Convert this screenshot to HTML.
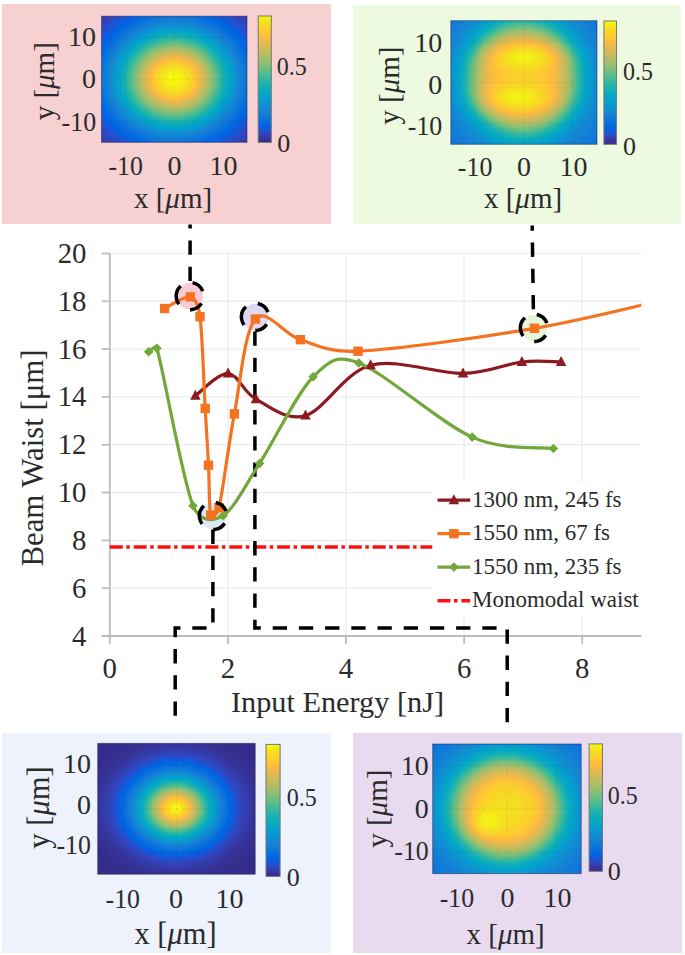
<!DOCTYPE html>
<html><head><meta charset="utf-8"><style>
html,body{margin:0;padding:0;background:#fff;width:685px;height:955px;overflow:hidden}
svg{display:block;font-family:"Liberation Serif", serif}
</style></head><body>
<svg width="685" height="955" viewBox="0 0 685 955">
<defs><filter id="parula" x="0" y="0" width="1" height="1" color-interpolation-filters="sRGB"><feComponentTransfer><feFuncR type="table" tableValues="0.208 0.212 0.212 0.208 0.196 0.171 0.125 0.059 0.012 0.006 0.017 0.033 0.050 0.063 0.072 0.078 0.079 0.075 0.064 0.049 0.034 0.026 0.024 0.023 0.023 0.027 0.038 0.059 0.084 0.113 0.145 0.180 0.218 0.259 0.302 0.348 0.395 0.442 0.487 0.530 0.571 0.610 0.647 0.683 0.718 0.752 0.786 0.819 0.851 0.882 0.914 0.945 0.974 0.994 0.999 0.996 0.988 0.979 0.970 0.963 0.959 0.960 0.966 0.976"/><feFuncG type="table" tableValues="0.166 0.190 0.214 0.239 0.265 0.292 0.324 0.360 0.388 0.409 0.427 0.443 0.459 0.474 0.489 0.504 0.520 0.537 0.557 0.577 0.597 0.614 0.629 0.642 0.653 0.664 0.674 0.684 0.693 0.702 0.710 0.718 0.725 0.732 0.738 0.742 0.746 0.748 0.749 0.749 0.749 0.747 0.746 0.744 0.741 0.738 0.736 0.733 0.730 0.727 0.726 0.726 0.731 0.746 0.765 0.786 0.807 0.827 0.848 0.871 0.895 0.922 0.951 0.983"/><feFuncB type="table" tableValues="0.529 0.578 0.627 0.677 0.728 0.779 0.830 0.868 0.882 0.883 0.879 0.872 0.864 0.855 0.847 0.838 0.831 0.826 0.824 0.823 0.820 0.814 0.804 0.791 0.777 0.761 0.744 0.725 0.706 0.686 0.665 0.642 0.619 0.595 0.571 0.547 0.524 0.503 0.484 0.466 0.449 0.434 0.419 0.404 0.391 0.377 0.363 0.350 0.336 0.322 0.306 0.289 0.267 0.240 0.216 0.197 0.179 0.163 0.147 0.131 0.113 0.095 0.075 0.054"/></feComponentTransfer></filter>
<linearGradient id="cbar" x1="0" y1="1" x2="0" y2="0"><stop offset="0" stop-color="#000"/><stop offset="1" stop-color="#fff"/></linearGradient>
<radialGradient id="rg1" gradientUnits="userSpaceOnUse" cx="0" cy="0" r="1" gradientTransform="translate(174.25 79.25) scale(126.10 109.29)"><stop offset="0.000" stop-color="#ffffff"/><stop offset="0.017" stop-color="#ffffff"/><stop offset="0.033" stop-color="#fefefe"/><stop offset="0.050" stop-color="#fcfcfc"/><stop offset="0.067" stop-color="#f9f9f9"/><stop offset="0.083" stop-color="#f6f6f6"/><stop offset="0.100" stop-color="#f2f2f2"/><stop offset="0.117" stop-color="#eeeeee"/><stop offset="0.133" stop-color="#e9e9e9"/><stop offset="0.150" stop-color="#e3e3e3"/><stop offset="0.167" stop-color="#dddddd"/><stop offset="0.183" stop-color="#d6d6d6"/><stop offset="0.200" stop-color="#cfcfcf"/><stop offset="0.217" stop-color="#c8c8c8"/><stop offset="0.233" stop-color="#c0c0c0"/><stop offset="0.250" stop-color="#b9b9b9"/><stop offset="0.267" stop-color="#b1b1b1"/><stop offset="0.283" stop-color="#a8a8a8"/><stop offset="0.300" stop-color="#a0a0a0"/><stop offset="0.317" stop-color="#989898"/><stop offset="0.333" stop-color="#909090"/><stop offset="0.350" stop-color="#888888"/><stop offset="0.367" stop-color="#808080"/><stop offset="0.383" stop-color="#787878"/><stop offset="0.400" stop-color="#707070"/><stop offset="0.417" stop-color="#696969"/><stop offset="0.433" stop-color="#626262"/><stop offset="0.450" stop-color="#5b5b5b"/><stop offset="0.467" stop-color="#545454"/><stop offset="0.483" stop-color="#4e4e4e"/><stop offset="0.500" stop-color="#484848"/><stop offset="0.517" stop-color="#424242"/><stop offset="0.533" stop-color="#3d3d3d"/><stop offset="0.550" stop-color="#373737"/><stop offset="0.567" stop-color="#333333"/><stop offset="0.583" stop-color="#2e2e2e"/><stop offset="0.600" stop-color="#2a2a2a"/><stop offset="0.617" stop-color="#262626"/><stop offset="0.633" stop-color="#232323"/><stop offset="0.650" stop-color="#202020"/><stop offset="0.667" stop-color="#1d1d1d"/><stop offset="0.683" stop-color="#1a1a1a"/><stop offset="0.700" stop-color="#181818"/><stop offset="0.717" stop-color="#161616"/><stop offset="0.733" stop-color="#141414"/><stop offset="0.750" stop-color="#121212"/><stop offset="0.767" stop-color="#101010"/><stop offset="0.783" stop-color="#0f0f0f"/><stop offset="0.800" stop-color="#0e0e0e"/><stop offset="0.817" stop-color="#0c0c0c"/><stop offset="0.833" stop-color="#0b0b0b"/><stop offset="0.850" stop-color="#0b0b0b"/><stop offset="0.867" stop-color="#0a0a0a"/><stop offset="0.883" stop-color="#090909"/><stop offset="0.900" stop-color="#090909"/><stop offset="0.917" stop-color="#080808"/><stop offset="0.933" stop-color="#080808"/><stop offset="0.950" stop-color="#070707"/><stop offset="0.967" stop-color="#070707"/><stop offset="0.983" stop-color="#070707"/><stop offset="1.000" stop-color="#060606"/></radialGradient>
<radialGradient id="rg2" gradientUnits="userSpaceOnUse" cx="0" cy="0" r="1" gradientTransform="translate(522.93 78.38) scale(126.71 128.54)"><stop offset="0.000" stop-color="#e0e0e0"/><stop offset="0.017" stop-color="#e0e0e0"/><stop offset="0.033" stop-color="#e0e0e0"/><stop offset="0.050" stop-color="#e0e0e0"/><stop offset="0.067" stop-color="#e0e0e0"/><stop offset="0.083" stop-color="#dfdfdf"/><stop offset="0.100" stop-color="#dedede"/><stop offset="0.117" stop-color="#dedede"/><stop offset="0.133" stop-color="#dddddd"/><stop offset="0.150" stop-color="#dcdcdc"/><stop offset="0.167" stop-color="#dadada"/><stop offset="0.183" stop-color="#d9d9d9"/><stop offset="0.200" stop-color="#d7d7d7"/><stop offset="0.217" stop-color="#d4d4d4"/><stop offset="0.233" stop-color="#d2d2d2"/><stop offset="0.250" stop-color="#cfcfcf"/><stop offset="0.267" stop-color="#cbcbcb"/><stop offset="0.283" stop-color="#c7c7c7"/><stop offset="0.300" stop-color="#c2c2c2"/><stop offset="0.317" stop-color="#bcbcbc"/><stop offset="0.333" stop-color="#b6b6b6"/><stop offset="0.350" stop-color="#afafaf"/><stop offset="0.367" stop-color="#a7a7a7"/><stop offset="0.383" stop-color="#9e9e9e"/><stop offset="0.400" stop-color="#959595"/><stop offset="0.417" stop-color="#8c8c8c"/><stop offset="0.433" stop-color="#828282"/><stop offset="0.450" stop-color="#797979"/><stop offset="0.467" stop-color="#707070"/><stop offset="0.483" stop-color="#686868"/><stop offset="0.500" stop-color="#606060"/><stop offset="0.517" stop-color="#5a5a5a"/><stop offset="0.533" stop-color="#545454"/><stop offset="0.550" stop-color="#4f4f4f"/><stop offset="0.567" stop-color="#4b4b4b"/><stop offset="0.583" stop-color="#474747"/><stop offset="0.600" stop-color="#444444"/><stop offset="0.617" stop-color="#424242"/><stop offset="0.633" stop-color="#404040"/><stop offset="0.650" stop-color="#3d3d3d"/><stop offset="0.667" stop-color="#3b3b3b"/><stop offset="0.683" stop-color="#393939"/><stop offset="0.700" stop-color="#383838"/><stop offset="0.717" stop-color="#363636"/><stop offset="0.733" stop-color="#343434"/><stop offset="0.750" stop-color="#323232"/><stop offset="0.767" stop-color="#303030"/><stop offset="0.783" stop-color="#2f2f2f"/><stop offset="0.800" stop-color="#2d2d2d"/><stop offset="0.817" stop-color="#2b2b2b"/><stop offset="0.833" stop-color="#2a2a2a"/><stop offset="0.850" stop-color="#282828"/><stop offset="0.867" stop-color="#272727"/><stop offset="0.883" stop-color="#262626"/><stop offset="0.900" stop-color="#242424"/><stop offset="0.917" stop-color="#232323"/><stop offset="0.933" stop-color="#222222"/><stop offset="0.950" stop-color="#212121"/><stop offset="0.967" stop-color="#1f1f1f"/><stop offset="0.983" stop-color="#1e1e1e"/><stop offset="1.000" stop-color="#1d1d1d"/></radialGradient>
<radialGradient id="rg3" gradientUnits="userSpaceOnUse" cx="0" cy="0" r="1" gradientTransform="translate(524.39 57.78) scale(87.72 38.32)"><stop offset="0.000" stop-color="#ffffff" stop-opacity="0.900"/><stop offset="0.025" stop-color="#ffffff" stop-opacity="0.895"/><stop offset="0.050" stop-color="#ffffff" stop-opacity="0.880"/><stop offset="0.075" stop-color="#ffffff" stop-opacity="0.856"/><stop offset="0.100" stop-color="#ffffff" stop-opacity="0.823"/><stop offset="0.125" stop-color="#ffffff" stop-opacity="0.782"/><stop offset="0.150" stop-color="#ffffff" stop-opacity="0.735"/><stop offset="0.175" stop-color="#ffffff" stop-opacity="0.683"/><stop offset="0.200" stop-color="#ffffff" stop-opacity="0.628"/><stop offset="0.225" stop-color="#ffffff" stop-opacity="0.571"/><stop offset="0.250" stop-color="#ffffff" stop-opacity="0.513"/><stop offset="0.275" stop-color="#ffffff" stop-opacity="0.456"/><stop offset="0.300" stop-color="#ffffff" stop-opacity="0.400"/><stop offset="0.325" stop-color="#ffffff" stop-opacity="0.348"/><stop offset="0.350" stop-color="#ffffff" stop-opacity="0.299"/><stop offset="0.375" stop-color="#ffffff" stop-opacity="0.254"/><stop offset="0.400" stop-color="#ffffff" stop-opacity="0.213"/><stop offset="0.425" stop-color="#ffffff" stop-opacity="0.177"/><stop offset="0.450" stop-color="#ffffff" stop-opacity="0.145"/><stop offset="0.475" stop-color="#ffffff" stop-opacity="0.118"/><stop offset="0.500" stop-color="#ffffff" stop-opacity="0.095"/><stop offset="0.525" stop-color="#ffffff" stop-opacity="0.075"/><stop offset="0.550" stop-color="#ffffff" stop-opacity="0.059"/><stop offset="0.575" stop-color="#ffffff" stop-opacity="0.046"/><stop offset="0.600" stop-color="#ffffff" stop-opacity="0.035"/><stop offset="0.625" stop-color="#ffffff" stop-opacity="0.027"/><stop offset="0.650" stop-color="#ffffff" stop-opacity="0.020"/><stop offset="0.675" stop-color="#ffffff" stop-opacity="0.015"/><stop offset="0.700" stop-color="#ffffff" stop-opacity="0.011"/><stop offset="0.725" stop-color="#ffffff" stop-opacity="0.008"/><stop offset="0.750" stop-color="#ffffff" stop-opacity="0.006"/><stop offset="0.775" stop-color="#ffffff" stop-opacity="0.004"/><stop offset="0.800" stop-color="#ffffff" stop-opacity="0.003"/><stop offset="0.825" stop-color="#ffffff" stop-opacity="0.002"/><stop offset="0.850" stop-color="#ffffff" stop-opacity="0.001"/><stop offset="0.875" stop-color="#ffffff" stop-opacity="0.001"/><stop offset="0.900" stop-color="#ffffff" stop-opacity="0.001"/><stop offset="0.925" stop-color="#ffffff" stop-opacity="0.000"/><stop offset="0.950" stop-color="#ffffff" stop-opacity="0.000"/><stop offset="0.975" stop-color="#ffffff" stop-opacity="0.000"/><stop offset="1.000" stop-color="#ffffff" stop-opacity="0.000"/></radialGradient>
<radialGradient id="rg4" gradientUnits="userSpaceOnUse" cx="0" cy="0" r="1" gradientTransform="translate(519.03 98.16) scale(90.64 40.79)"><stop offset="0.000" stop-color="#ffffff" stop-opacity="0.900"/><stop offset="0.025" stop-color="#ffffff" stop-opacity="0.895"/><stop offset="0.050" stop-color="#ffffff" stop-opacity="0.880"/><stop offset="0.075" stop-color="#ffffff" stop-opacity="0.856"/><stop offset="0.100" stop-color="#ffffff" stop-opacity="0.823"/><stop offset="0.125" stop-color="#ffffff" stop-opacity="0.782"/><stop offset="0.150" stop-color="#ffffff" stop-opacity="0.735"/><stop offset="0.175" stop-color="#ffffff" stop-opacity="0.683"/><stop offset="0.200" stop-color="#ffffff" stop-opacity="0.628"/><stop offset="0.225" stop-color="#ffffff" stop-opacity="0.571"/><stop offset="0.250" stop-color="#ffffff" stop-opacity="0.513"/><stop offset="0.275" stop-color="#ffffff" stop-opacity="0.456"/><stop offset="0.300" stop-color="#ffffff" stop-opacity="0.400"/><stop offset="0.325" stop-color="#ffffff" stop-opacity="0.348"/><stop offset="0.350" stop-color="#ffffff" stop-opacity="0.299"/><stop offset="0.375" stop-color="#ffffff" stop-opacity="0.254"/><stop offset="0.400" stop-color="#ffffff" stop-opacity="0.213"/><stop offset="0.425" stop-color="#ffffff" stop-opacity="0.177"/><stop offset="0.450" stop-color="#ffffff" stop-opacity="0.145"/><stop offset="0.475" stop-color="#ffffff" stop-opacity="0.118"/><stop offset="0.500" stop-color="#ffffff" stop-opacity="0.095"/><stop offset="0.525" stop-color="#ffffff" stop-opacity="0.075"/><stop offset="0.550" stop-color="#ffffff" stop-opacity="0.059"/><stop offset="0.575" stop-color="#ffffff" stop-opacity="0.046"/><stop offset="0.600" stop-color="#ffffff" stop-opacity="0.035"/><stop offset="0.625" stop-color="#ffffff" stop-opacity="0.027"/><stop offset="0.650" stop-color="#ffffff" stop-opacity="0.020"/><stop offset="0.675" stop-color="#ffffff" stop-opacity="0.015"/><stop offset="0.700" stop-color="#ffffff" stop-opacity="0.011"/><stop offset="0.725" stop-color="#ffffff" stop-opacity="0.008"/><stop offset="0.750" stop-color="#ffffff" stop-opacity="0.006"/><stop offset="0.775" stop-color="#ffffff" stop-opacity="0.004"/><stop offset="0.800" stop-color="#ffffff" stop-opacity="0.003"/><stop offset="0.825" stop-color="#ffffff" stop-opacity="0.002"/><stop offset="0.850" stop-color="#ffffff" stop-opacity="0.001"/><stop offset="0.875" stop-color="#ffffff" stop-opacity="0.001"/><stop offset="0.900" stop-color="#ffffff" stop-opacity="0.001"/><stop offset="0.925" stop-color="#ffffff" stop-opacity="0.000"/><stop offset="0.950" stop-color="#ffffff" stop-opacity="0.000"/><stop offset="0.975" stop-color="#ffffff" stop-opacity="0.000"/><stop offset="1.000" stop-color="#ffffff" stop-opacity="0.000"/></radialGradient>
<radialGradient id="rg5" gradientUnits="userSpaceOnUse" cx="0" cy="0" r="1" gradientTransform="translate(175.92 808.36) scale(136.50 113.36)"><stop offset="0.000" stop-color="#ffffff"/><stop offset="0.017" stop-color="#fdfdfd"/><stop offset="0.033" stop-color="#f8f8f8"/><stop offset="0.050" stop-color="#f1f1f1"/><stop offset="0.067" stop-color="#e8e8e8"/><stop offset="0.083" stop-color="#dfdfdf"/><stop offset="0.100" stop-color="#d4d4d4"/><stop offset="0.117" stop-color="#c8c8c8"/><stop offset="0.133" stop-color="#bcbcbc"/><stop offset="0.150" stop-color="#b0b0b0"/><stop offset="0.167" stop-color="#a4a4a4"/><stop offset="0.183" stop-color="#989898"/><stop offset="0.200" stop-color="#8b8b8b"/><stop offset="0.217" stop-color="#808080"/><stop offset="0.233" stop-color="#747474"/><stop offset="0.250" stop-color="#6a6a6a"/><stop offset="0.267" stop-color="#5f5f5f"/><stop offset="0.283" stop-color="#565656"/><stop offset="0.300" stop-color="#4d4d4d"/><stop offset="0.317" stop-color="#444444"/><stop offset="0.333" stop-color="#3d3d3d"/><stop offset="0.350" stop-color="#353535"/><stop offset="0.367" stop-color="#2f2f2f"/><stop offset="0.383" stop-color="#292929"/><stop offset="0.400" stop-color="#242424"/><stop offset="0.417" stop-color="#1f1f1f"/><stop offset="0.433" stop-color="#1b1b1b"/><stop offset="0.450" stop-color="#171717"/><stop offset="0.467" stop-color="#141414"/><stop offset="0.483" stop-color="#111111"/><stop offset="0.500" stop-color="#0f0f0f"/><stop offset="0.517" stop-color="#0c0c0c"/><stop offset="0.533" stop-color="#0a0a0a"/><stop offset="0.550" stop-color="#090909"/><stop offset="0.567" stop-color="#070707"/><stop offset="0.583" stop-color="#060606"/><stop offset="0.600" stop-color="#050505"/><stop offset="0.617" stop-color="#040404"/><stop offset="0.633" stop-color="#040404"/><stop offset="0.650" stop-color="#030303"/><stop offset="0.667" stop-color="#020202"/><stop offset="0.683" stop-color="#020202"/><stop offset="0.700" stop-color="#020202"/><stop offset="0.717" stop-color="#010101"/><stop offset="0.733" stop-color="#010101"/><stop offset="0.750" stop-color="#010101"/><stop offset="0.767" stop-color="#010101"/><stop offset="0.783" stop-color="#010101"/><stop offset="0.800" stop-color="#000000"/><stop offset="0.817" stop-color="#000000"/><stop offset="0.833" stop-color="#000000"/><stop offset="0.850" stop-color="#000000"/><stop offset="0.867" stop-color="#000000"/><stop offset="0.883" stop-color="#000000"/><stop offset="0.900" stop-color="#000000"/><stop offset="0.917" stop-color="#000000"/><stop offset="0.933" stop-color="#000000"/><stop offset="0.950" stop-color="#000000"/><stop offset="0.967" stop-color="#000000"/><stop offset="0.983" stop-color="#000000"/><stop offset="1.000" stop-color="#000000"/></radialGradient>
<radialGradient id="rg6" gradientUnits="userSpaceOnUse" cx="0" cy="0" r="1" gradientTransform="translate(506.95 808.80) scale(128.70 117.94)"><stop offset="0.000" stop-color="#f0f0f0"/><stop offset="0.017" stop-color="#f0f0f0"/><stop offset="0.033" stop-color="#efefef"/><stop offset="0.050" stop-color="#efefef"/><stop offset="0.067" stop-color="#efefef"/><stop offset="0.083" stop-color="#eeeeee"/><stop offset="0.100" stop-color="#ededed"/><stop offset="0.117" stop-color="#ececec"/><stop offset="0.133" stop-color="#ebebeb"/><stop offset="0.150" stop-color="#e9e9e9"/><stop offset="0.167" stop-color="#e7e7e7"/><stop offset="0.183" stop-color="#e5e5e5"/><stop offset="0.200" stop-color="#e3e3e3"/><stop offset="0.217" stop-color="#e0e0e0"/><stop offset="0.233" stop-color="#dcdcdc"/><stop offset="0.250" stop-color="#d8d8d8"/><stop offset="0.267" stop-color="#d3d3d3"/><stop offset="0.283" stop-color="#cecece"/><stop offset="0.300" stop-color="#c8c8c8"/><stop offset="0.317" stop-color="#c1c1c1"/><stop offset="0.333" stop-color="#bababa"/><stop offset="0.350" stop-color="#b2b2b2"/><stop offset="0.367" stop-color="#a9a9a9"/><stop offset="0.383" stop-color="#a0a0a0"/><stop offset="0.400" stop-color="#979797"/><stop offset="0.417" stop-color="#8d8d8d"/><stop offset="0.433" stop-color="#848484"/><stop offset="0.450" stop-color="#7b7b7b"/><stop offset="0.467" stop-color="#727272"/><stop offset="0.483" stop-color="#6a6a6a"/><stop offset="0.500" stop-color="#636363"/><stop offset="0.517" stop-color="#5d5d5d"/><stop offset="0.533" stop-color="#575757"/><stop offset="0.550" stop-color="#525252"/><stop offset="0.567" stop-color="#4e4e4e"/><stop offset="0.583" stop-color="#4a4a4a"/><stop offset="0.600" stop-color="#474747"/><stop offset="0.617" stop-color="#444444"/><stop offset="0.633" stop-color="#414141"/><stop offset="0.650" stop-color="#3f3f3f"/><stop offset="0.667" stop-color="#3c3c3c"/><stop offset="0.683" stop-color="#3a3a3a"/><stop offset="0.700" stop-color="#383838"/><stop offset="0.717" stop-color="#363636"/><stop offset="0.733" stop-color="#343434"/><stop offset="0.750" stop-color="#323232"/><stop offset="0.767" stop-color="#303030"/><stop offset="0.783" stop-color="#2e2e2e"/><stop offset="0.800" stop-color="#2c2c2c"/><stop offset="0.817" stop-color="#2b2b2b"/><stop offset="0.833" stop-color="#292929"/><stop offset="0.850" stop-color="#272727"/><stop offset="0.867" stop-color="#262626"/><stop offset="0.883" stop-color="#242424"/><stop offset="0.900" stop-color="#232323"/><stop offset="0.917" stop-color="#222222"/><stop offset="0.933" stop-color="#202020"/><stop offset="0.950" stop-color="#1f1f1f"/><stop offset="0.967" stop-color="#1e1e1e"/><stop offset="0.983" stop-color="#1d1d1d"/><stop offset="1.000" stop-color="#1c1c1c"/></radialGradient>
<radialGradient id="rg7" gradientUnits="userSpaceOnUse" cx="0" cy="0" r="1" gradientTransform="translate(487.15 822.19) scale(44.55 38.88)"><stop offset="0.000" stop-color="#ffffff" stop-opacity="0.850"/><stop offset="0.025" stop-color="#ffffff" stop-opacity="0.845"/><stop offset="0.050" stop-color="#ffffff" stop-opacity="0.831"/><stop offset="0.075" stop-color="#ffffff" stop-opacity="0.808"/><stop offset="0.100" stop-color="#ffffff" stop-opacity="0.777"/><stop offset="0.125" stop-color="#ffffff" stop-opacity="0.738"/><stop offset="0.150" stop-color="#ffffff" stop-opacity="0.694"/><stop offset="0.175" stop-color="#ffffff" stop-opacity="0.645"/><stop offset="0.200" stop-color="#ffffff" stop-opacity="0.593"/><stop offset="0.225" stop-color="#ffffff" stop-opacity="0.539"/><stop offset="0.250" stop-color="#ffffff" stop-opacity="0.484"/><stop offset="0.275" stop-color="#ffffff" stop-opacity="0.430"/><stop offset="0.300" stop-color="#ffffff" stop-opacity="0.378"/><stop offset="0.325" stop-color="#ffffff" stop-opacity="0.329"/><stop offset="0.350" stop-color="#ffffff" stop-opacity="0.282"/><stop offset="0.375" stop-color="#ffffff" stop-opacity="0.240"/><stop offset="0.400" stop-color="#ffffff" stop-opacity="0.201"/><stop offset="0.425" stop-color="#ffffff" stop-opacity="0.167"/><stop offset="0.450" stop-color="#ffffff" stop-opacity="0.137"/><stop offset="0.475" stop-color="#ffffff" stop-opacity="0.112"/><stop offset="0.500" stop-color="#ffffff" stop-opacity="0.090"/><stop offset="0.525" stop-color="#ffffff" stop-opacity="0.071"/><stop offset="0.550" stop-color="#ffffff" stop-opacity="0.056"/><stop offset="0.575" stop-color="#ffffff" stop-opacity="0.043"/><stop offset="0.600" stop-color="#ffffff" stop-opacity="0.033"/><stop offset="0.625" stop-color="#ffffff" stop-opacity="0.025"/><stop offset="0.650" stop-color="#ffffff" stop-opacity="0.019"/><stop offset="0.675" stop-color="#ffffff" stop-opacity="0.014"/><stop offset="0.700" stop-color="#ffffff" stop-opacity="0.010"/><stop offset="0.725" stop-color="#ffffff" stop-opacity="0.007"/><stop offset="0.750" stop-color="#ffffff" stop-opacity="0.005"/><stop offset="0.775" stop-color="#ffffff" stop-opacity="0.004"/><stop offset="0.800" stop-color="#ffffff" stop-opacity="0.003"/><stop offset="0.825" stop-color="#ffffff" stop-opacity="0.002"/><stop offset="0.850" stop-color="#ffffff" stop-opacity="0.001"/><stop offset="0.875" stop-color="#ffffff" stop-opacity="0.001"/><stop offset="0.900" stop-color="#ffffff" stop-opacity="0.001"/><stop offset="0.925" stop-color="#ffffff" stop-opacity="0.000"/><stop offset="0.950" stop-color="#ffffff" stop-opacity="0.000"/><stop offset="0.975" stop-color="#ffffff" stop-opacity="0.000"/><stop offset="1.000" stop-color="#ffffff" stop-opacity="0.000"/></radialGradient>
<clipPath id="plot"><rect x="109.80" y="233.44" width="531.45" height="402.56"/></clipPath></defs>
<rect x="2" y="4" width="329" height="220" fill="#f7d0d1"/>
<g filter="url(#parula)"><rect x="101.50" y="16.20" width="145.50" height="126.10" fill="url(#rg1)"/></g><g stroke="#262626" stroke-opacity="0.09" stroke-width="1" stroke-dasharray="4 3"><line x1="125.75" y1="16.20" x2="125.75" y2="142.30"/><line x1="101.50" y1="121.28" x2="247.00" y2="121.28"/><line x1="174.25" y1="16.20" x2="174.25" y2="142.30"/><line x1="101.50" y1="79.25" x2="247.00" y2="79.25"/><line x1="222.75" y1="16.20" x2="222.75" y2="142.30"/><line x1="101.50" y1="37.22" x2="247.00" y2="37.22"/></g><rect x="101.50" y="16.20" width="145.50" height="126.10" fill="none" stroke="#1a1a40" stroke-opacity="0.5" stroke-width="1"/><g filter="url(#parula)"><rect x="258.20" y="16.00" width="13.10" height="126.40" fill="url(#cbar)"/></g><rect x="258.20" y="16.00" width="13.10" height="126.40" fill="none" stroke="#777" stroke-width="1"/><text x="96.10" y="46.28" font-size="28" text-anchor="end" fill="#2b2b2b" >10</text><text x="96.10" y="88.38" font-size="28" text-anchor="end" fill="#2b2b2b" >0</text><text x="96.10" y="131.08" font-size="28" text-anchor="end" fill="#2b2b2b" textLength="34.5" lengthAdjust="spacingAndGlyphs">-10</text><text x="125.70" y="174.58" font-size="28" text-anchor="middle" fill="#2b2b2b" textLength="34.5" lengthAdjust="spacingAndGlyphs">-10</text><text x="174.40" y="174.58" font-size="28" text-anchor="middle" fill="#2b2b2b" >0</text><text x="223.40" y="174.58" font-size="28" text-anchor="middle" fill="#2b2b2b" >10</text><text x="173.00" y="208.25" font-size="29" text-anchor="middle" fill="#2b2b2b" >x [<tspan font-style="italic">μ</tspan>m]</text><g transform="translate(53.55 81.25) rotate(-90)"><text x="0.00" y="0.00" font-size="29" text-anchor="middle" fill="#2b2b2b" >y [<tspan font-style="italic">μ</tspan>m]</text></g><text x="276.80" y="75.01" font-size="26" text-anchor="start" fill="#2b2b2b" textLength="30" lengthAdjust="spacingAndGlyphs">0.5</text><text x="277.30" y="152.01" font-size="26" text-anchor="start" fill="#2b2b2b" >0</text>
<rect x="353" y="5" width="328" height="219" fill="#edfadf"/>
<g filter="url(#parula)"><rect x="450.80" y="20.70" width="146.20" height="123.60" fill="url(#rg2)"/><rect x="450.80" y="20.70" width="146.20" height="123.60" fill="url(#rg3)"/><rect x="450.80" y="20.70" width="146.20" height="123.60" fill="url(#rg4)"/></g><g stroke="#262626" stroke-opacity="0.09" stroke-width="1" stroke-dasharray="4 3"><line x1="475.17" y1="20.70" x2="475.17" y2="144.30"/><line x1="450.80" y1="123.70" x2="597.00" y2="123.70"/><line x1="523.90" y1="20.70" x2="523.90" y2="144.30"/><line x1="450.80" y1="82.50" x2="597.00" y2="82.50"/><line x1="572.63" y1="20.70" x2="572.63" y2="144.30"/><line x1="450.80" y1="41.30" x2="597.00" y2="41.30"/></g><rect x="450.80" y="20.70" width="146.20" height="123.60" fill="none" stroke="#1a1a40" stroke-opacity="0.5" stroke-width="1"/><g filter="url(#parula)"><rect x="603.90" y="21.00" width="12.60" height="123.30" fill="url(#cbar)"/></g><rect x="603.90" y="21.00" width="12.60" height="123.30" fill="none" stroke="#777" stroke-width="1"/><text x="442.30" y="52.28" font-size="28" text-anchor="end" fill="#2b2b2b" >10</text><text x="442.30" y="94.08" font-size="28" text-anchor="end" fill="#2b2b2b" >0</text><text x="442.30" y="134.98" font-size="28" text-anchor="end" fill="#2b2b2b" textLength="34.5" lengthAdjust="spacingAndGlyphs">-10</text><text x="475.10" y="175.68" font-size="28" text-anchor="middle" fill="#2b2b2b" textLength="34.5" lengthAdjust="spacingAndGlyphs">-10</text><text x="524.10" y="175.68" font-size="28" text-anchor="middle" fill="#2b2b2b" >0</text><text x="573.40" y="175.68" font-size="28" text-anchor="middle" fill="#2b2b2b" >10</text><text x="523.00" y="208.25" font-size="29" text-anchor="middle" fill="#2b2b2b" >x [<tspan font-style="italic">μ</tspan>m]</text><g transform="translate(399.45 85.65) rotate(-90)"><text x="0.00" y="0.00" font-size="29" text-anchor="middle" fill="#2b2b2b" >y [<tspan font-style="italic">μ</tspan>m]</text></g><text x="622.90" y="80.41" font-size="26" text-anchor="start" fill="#2b2b2b" textLength="30" lengthAdjust="spacingAndGlyphs">0.5</text><text x="622.90" y="154.61" font-size="26" text-anchor="start" fill="#2b2b2b" >0</text>
<rect x="2" y="733" width="329" height="220" fill="#edf2fd"/>
<g filter="url(#parula)"><rect x="97.70" y="743.40" width="157.50" height="130.80" fill="url(#rg5)"/></g><g stroke="#262626" stroke-opacity="0.09" stroke-width="1" stroke-dasharray="4 3"><line x1="123.95" y1="743.40" x2="123.95" y2="874.20"/><line x1="97.70" y1="852.40" x2="255.20" y2="852.40"/><line x1="176.45" y1="743.40" x2="176.45" y2="874.20"/><line x1="97.70" y1="808.80" x2="255.20" y2="808.80"/><line x1="228.95" y1="743.40" x2="228.95" y2="874.20"/><line x1="97.70" y1="765.20" x2="255.20" y2="765.20"/></g><rect x="97.70" y="743.40" width="157.50" height="130.80" fill="none" stroke="#1a1a40" stroke-opacity="0.5" stroke-width="1"/><g filter="url(#parula)"><rect x="266.00" y="744.40" width="14.10" height="132.00" fill="url(#cbar)"/></g><rect x="266.00" y="744.40" width="14.10" height="132.00" fill="none" stroke="#777" stroke-width="1"/><text x="90.90" y="773.38" font-size="28" text-anchor="end" fill="#2b2b2b" >10</text><text x="90.90" y="814.38" font-size="28" text-anchor="end" fill="#2b2b2b" >0</text><text x="90.90" y="854.38" font-size="28" text-anchor="end" fill="#2b2b2b" textLength="34.5" lengthAdjust="spacingAndGlyphs">-10</text><text x="122.80" y="907.98" font-size="28" text-anchor="middle" fill="#2b2b2b" textLength="34.5" lengthAdjust="spacingAndGlyphs">-10</text><text x="176.10" y="907.98" font-size="28" text-anchor="middle" fill="#2b2b2b" >0</text><text x="229.60" y="907.98" font-size="28" text-anchor="middle" fill="#2b2b2b" >10</text><text x="175.60" y="944.05" font-size="30.5" text-anchor="middle" fill="#2b2b2b" >x [<tspan font-style="italic">μ</tspan>m]</text><g transform="translate(48.70 807.50) rotate(-90)"><text x="0.00" y="0.00" font-size="30.5" text-anchor="middle" fill="#2b2b2b" >y [<tspan font-style="italic">μ</tspan>m]</text></g><text x="286.80" y="806.21" font-size="26" text-anchor="start" fill="#2b2b2b" textLength="30" lengthAdjust="spacingAndGlyphs">0.5</text><text x="286.80" y="886.21" font-size="26" text-anchor="start" fill="#2b2b2b" >0</text>
<rect x="353" y="733" width="329" height="220" fill="#e8dbf0"/>
<g filter="url(#parula)"><rect x="432.70" y="744.00" width="148.50" height="129.60" fill="url(#rg6)"/><rect x="432.70" y="744.00" width="148.50" height="129.60" fill="url(#rg7)"/></g><g stroke="#262626" stroke-opacity="0.09" stroke-width="1" stroke-dasharray="4 3"><line x1="457.45" y1="744.00" x2="457.45" y2="873.60"/><line x1="432.70" y1="852.00" x2="581.20" y2="852.00"/><line x1="506.95" y1="744.00" x2="506.95" y2="873.60"/><line x1="432.70" y1="808.80" x2="581.20" y2="808.80"/><line x1="556.45" y1="744.00" x2="556.45" y2="873.60"/><line x1="432.70" y1="765.60" x2="581.20" y2="765.60"/></g><rect x="432.70" y="744.00" width="148.50" height="129.60" fill="none" stroke="#1a1a40" stroke-opacity="0.5" stroke-width="1"/><g filter="url(#parula)"><rect x="589.10" y="743.90" width="13.40" height="127.40" fill="url(#cbar)"/></g><rect x="589.10" y="743.90" width="13.40" height="127.40" fill="none" stroke="#777" stroke-width="1"/><text x="428.80" y="774.88" font-size="28" text-anchor="end" fill="#2b2b2b" >10</text><text x="428.80" y="817.78" font-size="28" text-anchor="end" fill="#2b2b2b" >0</text><text x="428.80" y="859.88" font-size="28" text-anchor="end" fill="#2b2b2b" textLength="34.5" lengthAdjust="spacingAndGlyphs">-10</text><text x="456.90" y="907.38" font-size="28" text-anchor="middle" fill="#2b2b2b" textLength="34.5" lengthAdjust="spacingAndGlyphs">-10</text><text x="507.40" y="907.38" font-size="28" text-anchor="middle" fill="#2b2b2b" >0</text><text x="557.40" y="907.38" font-size="28" text-anchor="middle" fill="#2b2b2b" >10</text><text x="505.60" y="943.50" font-size="29" text-anchor="middle" fill="#2b2b2b" >x [<tspan font-style="italic">μ</tspan>m]</text><g transform="translate(386.65 808.60) rotate(-90)"><text x="0.00" y="0.00" font-size="29" text-anchor="middle" fill="#2b2b2b" >y [<tspan font-style="italic">μ</tspan>m]</text></g><text x="607.80" y="803.71" font-size="26" text-anchor="start" fill="#2b2b2b" textLength="30" lengthAdjust="spacingAndGlyphs">0.5</text><text x="607.80" y="880.41" font-size="26" text-anchor="start" fill="#2b2b2b" >0</text>
<g stroke="#ebecf2" stroke-width="1.3"><line x1="109.80" y1="588.18" x2="641.25" y2="588.18"/><line x1="109.80" y1="540.36" x2="641.25" y2="540.36"/><line x1="109.80" y1="492.54" x2="641.25" y2="492.54"/><line x1="109.80" y1="444.72" x2="641.25" y2="444.72"/><line x1="109.80" y1="396.90" x2="641.25" y2="396.90"/><line x1="109.80" y1="349.08" x2="641.25" y2="349.08"/><line x1="109.80" y1="301.26" x2="641.25" y2="301.26"/><line x1="109.80" y1="253.44" x2="641.25" y2="253.44"/><line x1="227.90" y1="253.44" x2="227.90" y2="636.00"/><line x1="346.00" y1="253.44" x2="346.00" y2="636.00"/><line x1="464.10" y1="253.44" x2="464.10" y2="636.00"/><line x1="582.20" y1="253.44" x2="582.20" y2="636.00"/></g><g stroke="#bdbdbd" stroke-width="1.8"><line x1="109.80" y1="253.44" x2="109.80" y2="636.00"/><line x1="101.80" y1="636.00" x2="641.25" y2="636.00"/><line x1="101.80" y1="636.00" x2="109.80" y2="636.00"/><line x1="101.80" y1="588.18" x2="109.80" y2="588.18"/><line x1="101.80" y1="540.36" x2="109.80" y2="540.36"/><line x1="101.80" y1="492.54" x2="109.80" y2="492.54"/><line x1="101.80" y1="444.72" x2="109.80" y2="444.72"/><line x1="101.80" y1="396.90" x2="109.80" y2="396.90"/><line x1="101.80" y1="349.08" x2="109.80" y2="349.08"/><line x1="101.80" y1="301.26" x2="109.80" y2="301.26"/><line x1="101.80" y1="253.44" x2="109.80" y2="253.44"/><line x1="109.80" y1="636.00" x2="109.80" y2="644.00"/><line x1="227.90" y1="636.00" x2="227.90" y2="644.00"/><line x1="346.00" y1="636.00" x2="346.00" y2="644.00"/><line x1="464.10" y1="636.00" x2="464.10" y2="644.00"/><line x1="582.20" y1="636.00" x2="582.20" y2="644.00"/></g><text x="86.50" y="645.50" font-size="28.8" text-anchor="end" fill="#2b2b2b" >4</text><text x="86.50" y="597.68" font-size="28.8" text-anchor="end" fill="#2b2b2b" >6</text><text x="86.50" y="549.86" font-size="28.8" text-anchor="end" fill="#2b2b2b" >8</text><text x="86.50" y="502.04" font-size="28.8" text-anchor="end" fill="#2b2b2b" >10</text><text x="86.50" y="454.22" font-size="28.8" text-anchor="end" fill="#2b2b2b" >12</text><text x="86.50" y="406.40" font-size="28.8" text-anchor="end" fill="#2b2b2b" >14</text><text x="86.50" y="358.58" font-size="28.8" text-anchor="end" fill="#2b2b2b" >16</text><text x="86.50" y="310.76" font-size="28.8" text-anchor="end" fill="#2b2b2b" >18</text><text x="86.50" y="262.94" font-size="28.8" text-anchor="end" fill="#2b2b2b" >20</text><text x="109.80" y="677.50" font-size="28.8" text-anchor="middle" fill="#2b2b2b" >0</text><text x="227.90" y="677.50" font-size="28.8" text-anchor="middle" fill="#2b2b2b" >2</text><text x="346.00" y="677.50" font-size="28.8" text-anchor="middle" fill="#2b2b2b" >4</text><text x="464.10" y="677.50" font-size="28.8" text-anchor="middle" fill="#2b2b2b" >6</text><text x="582.20" y="677.50" font-size="28.8" text-anchor="middle" fill="#2b2b2b" >8</text><text x="337.50" y="711.50" font-size="30.3" text-anchor="middle" fill="#2b2b2b" >Input Energy [nJ]</text><g transform="translate(43.2 458) rotate(-90)"><text x="0.00" y="0.00" font-size="30.8" text-anchor="middle" fill="#2b2b2b" >Beam Waist [μm]</text></g><line x1="109.80" y1="547" x2="432.5" y2="547" stroke="#ff1010" stroke-width="3.6" stroke-dasharray="13 3.5 3.5 3.9" /><path d="M190.1 224.5 V282" fill="none" stroke="#000" stroke-width="3.5" stroke-dasharray="14.3 11.9" stroke-dashoffset="10.2"/><path d="M532.2 225.6 L533.4 313" fill="none" stroke="#000" stroke-width="3.5" stroke-dasharray="14.3 11.9" stroke-dashoffset="9.2"/><path d="M212.9 529.6 V628.1 H175.2 V724" fill="none" stroke="#000" stroke-width="3.5" stroke-dasharray="14.3 11.9"/><path d="M254.9 331.5 V628.1 H507.2 V726" fill="none" stroke="#000" stroke-width="3.5" stroke-dasharray="14.3 11.9"/><circle cx="189.90" cy="296.10" r="13.2" fill="#f9ccd5"/><circle cx="255.10" cy="316.90" r="13.2" fill="#e0d8f1"/><circle cx="213.10" cy="515.90" r="13.2" fill="#dce8f7"/><circle cx="534.10" cy="327.90" r="13.2" fill="#e6f4da"/><g clip-path="url(#plot)" fill="none" stroke-width="3.2" stroke-linejoin="round"><path d="M195.40 395.70 C200.85 392.00 218.00 372.92 228.10 373.50 C238.20 374.08 243.10 392.18 256.00 399.20 C268.90 406.22 286.40 421.27 305.50 415.60 C324.60 409.93 344.35 372.23 370.60 365.20 C396.85 358.17 437.78 373.93 463.00 373.40 C488.22 372.87 505.55 363.90 521.90 362.00 C538.25 360.10 554.57 362.00 561.10 362.00" stroke="#8c1a1e"/><path d="M148.70 351.80 C150.07 351.22 155.67 344.02 156.90 348.30 C164.28 373.95 181.98 477.80 193.00 505.70 C198.81 520.41 211.90 522.75 223.00 515.70 C234.10 508.65 244.58 486.55 259.60 463.40 C274.62 440.25 296.57 393.53 313.10 376.80 C329.63 360.07 336.48 354.54 358.80 363.00 C385.32 373.05 439.77 422.85 472.20 437.10 C504.63 451.35 539.87 446.60 553.40 448.50" stroke="#72a83a"/><path d="M164.60 308.50 C168.88 306.57 184.40 295.53 190.30 296.90 C196.20 298.27 198.54 305.77 200.00 316.70 C202.48 335.30 203.78 383.75 205.20 408.50 C206.62 433.25 207.58 447.45 208.50 465.20 C209.42 482.95 208.95 507.90 210.70 515.00 C212.01 520.33 217.75 513.15 219.00 507.80 C222.95 490.95 228.33 445.37 234.40 413.90 C240.47 382.43 244.40 331.37 255.40 319.00 C266.40 306.63 283.30 334.33 300.40 339.70 C317.50 345.07 328.67 352.63 358.00 351.20 C397.00 349.30 480.73 337.50 534.40 328.30 C588.07 319.10 655.73 301.38 680.00 296.00" stroke="#f47220"/></g><g fill="#8c1a1e"><path d="M195.40 389.71 L200.65 399.69 L190.15 399.69 Z"/><path d="M228.10 367.51 L233.35 377.49 L222.85 377.49 Z"/><path d="M256.00 393.21 L261.25 403.19 L250.75 403.19 Z"/><path d="M305.50 409.62 L310.75 419.59 L300.25 419.59 Z"/><path d="M370.60 359.21 L375.85 369.19 L365.35 369.19 Z"/><path d="M463.00 367.41 L468.25 377.39 L457.75 377.39 Z"/><path d="M521.90 356.01 L527.15 365.99 L516.65 365.99 Z"/><path d="M561.10 356.01 L566.35 365.99 L555.85 365.99 Z"/></g><g fill="#72a83a"><path d="M148.70 347.00 L153.50 351.80 L148.70 356.60 L143.90 351.80 Z"/><path d="M156.90 343.50 L161.70 348.30 L156.90 353.10 L152.10 348.30 Z"/><path d="M193.00 500.90 L197.80 505.70 L193.00 510.50 L188.20 505.70 Z"/><path d="M223.00 510.90 L227.80 515.70 L223.00 520.50 L218.20 515.70 Z"/><path d="M259.60 458.60 L264.40 463.40 L259.60 468.20 L254.80 463.40 Z"/><path d="M313.10 372.00 L317.90 376.80 L313.10 381.60 L308.30 376.80 Z"/><path d="M358.80 358.20 L363.60 363.00 L358.80 367.80 L354.00 363.00 Z"/><path d="M472.20 432.30 L477.00 437.10 L472.20 441.90 L467.40 437.10 Z"/><path d="M553.40 443.70 L558.20 448.50 L553.40 453.30 L548.60 448.50 Z"/></g><g fill="#f47220"><rect x="159.90" y="303.80" width="9.40" height="9.40"/><rect x="185.60" y="292.20" width="9.40" height="9.40"/><rect x="195.30" y="312.00" width="9.40" height="9.40"/><rect x="200.50" y="403.80" width="9.40" height="9.40"/><rect x="203.80" y="460.50" width="9.40" height="9.40"/><rect x="206.00" y="510.30" width="9.40" height="9.40"/><rect x="214.30" y="503.10" width="9.40" height="9.40"/><rect x="229.70" y="409.20" width="9.40" height="9.40"/><rect x="250.70" y="314.30" width="9.40" height="9.40"/><rect x="295.70" y="335.00" width="9.40" height="9.40"/><rect x="353.30" y="346.50" width="9.40" height="9.40"/><rect x="529.70" y="323.60" width="9.40" height="9.40"/></g><circle cx="189.90" cy="296.10" r="12.5" fill="#f9ccd5" fill-opacity="0"/><circle cx="189.90" cy="296.10" r="13.7" fill="none" stroke="#000" stroke-width="3.5" stroke-dasharray="13.7 12.7" transform="rotate(170 189.90 296.10)"/><circle cx="255.10" cy="316.90" r="12.5" fill="#e0d8f1" fill-opacity="0"/><circle cx="255.10" cy="316.90" r="13.7" fill="none" stroke="#000" stroke-width="3.5" stroke-dasharray="13.7 12.7" transform="rotate(170 255.10 316.90)"/><circle cx="213.10" cy="515.90" r="12.5" fill="#dce8f7" fill-opacity="0"/><circle cx="213.10" cy="515.90" r="13.7" fill="none" stroke="#000" stroke-width="3.5" stroke-dasharray="13.7 12.7" transform="rotate(170 213.10 515.90)"/><circle cx="534.10" cy="327.90" r="12.5" fill="#e6f4da" fill-opacity="0"/><circle cx="534.10" cy="327.90" r="13.7" fill="none" stroke="#000" stroke-width="3.5" stroke-dasharray="13.7 12.7" transform="rotate(170 534.10 327.90)"/><rect x="432.5" y="482" width="215" height="135" fill="#fff"/><line x1="437.5" y1="500.20" x2="470.2" y2="500.20" stroke="#8c1a1e" stroke-width="3.2"/><g fill="#8c1a1e"><path d="M453.90 494.21 L459.15 504.19 L448.65 504.19 Z"/></g><text x="472.00" y="506.80" font-size="23" text-anchor="start" fill="#2b2b2b" >1300 nm, 245 fs</text><line x1="437.5" y1="533.70" x2="470.2" y2="533.70" stroke="#f47220" stroke-width="3.2"/><g fill="#f47220"><rect x="449.20" y="529.00" width="9.40" height="9.40"/></g><text x="472.00" y="540.30" font-size="23" text-anchor="start" fill="#2b2b2b" >1550 nm, 67 fs</text><line x1="437.5" y1="567.10" x2="470.2" y2="567.10" stroke="#72a83a" stroke-width="3.2"/><g fill="#72a83a"><path d="M453.90 562.30 L458.70 567.10 L453.90 571.90 L449.10 567.10 Z"/></g><text x="472.00" y="573.70" font-size="23" text-anchor="start" fill="#2b2b2b" >1550 nm, 235 fs</text><line x1="437.5" y1="600.80" x2="470.2" y2="600.80" stroke="#ff1010" stroke-width="3.6" stroke-dasharray="13 3.5 3.5 3.9"/><text x="472.00" y="607.40" font-size="23" text-anchor="start" fill="#2b2b2b" >Monomodal waist</text>
</svg></body></html>
